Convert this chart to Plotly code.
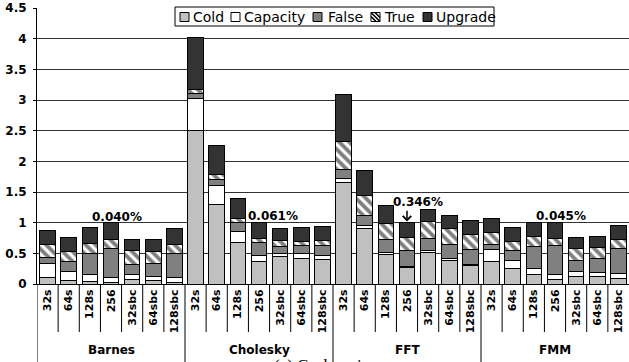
import plotly.graph_objects as go

# ---- data -------------------------------------------------------------
benchmarks = ["Barnes", "Cholesky", "FFT", "FMM"]
configs = ["32s", "64s", "128s", "256", "32sbc", "64sbc", "128sbc"]

cold = [0.11, 0.05, 0.04, 0.03, 0.07, 0.05, 0.03,
        2.50, 1.29, 0.68, 0.36, 0.45, 0.42, 0.40,
        1.65, 0.91, 0.48, 0.27, 0.52, 0.39, 0.30,
        0.36, 0.26, 0.15, 0.08, 0.13, 0.12, 0.09]
capacity = [0.23, 0.16, 0.11, 0.07, 0.08, 0.07, 0.08,
            0.53, 0.31, 0.17, 0.11, 0.05, 0.07, 0.07,
            0.07, 0.05, 0.03, 0.02, 0.02, 0.02, 0.02,
            0.20, 0.13, 0.11, 0.08, 0.07, 0.07, 0.08]
false_sh = [0.10, 0.15, 0.35, 0.48, 0.16, 0.22, 0.39,
            0.07, 0.10, 0.15, 0.21, 0.11, 0.14, 0.16,
            0.14, 0.15, 0.22, 0.26, 0.20, 0.23, 0.25,
            0.09, 0.16, 0.35, 0.46, 0.19, 0.23, 0.41]
true_sh = [0.20, 0.17, 0.16, 0.15, 0.23, 0.19, 0.15,
           0.07, 0.08, 0.07, 0.07, 0.10, 0.07, 0.08,
           0.46, 0.33, 0.25, 0.21, 0.28, 0.26, 0.24,
           0.19, 0.15, 0.16, 0.13, 0.19, 0.18, 0.15]
upgrade = [0.24, 0.23, 0.26, 0.28, 0.18, 0.19, 0.26,
           0.85, 0.48, 0.33, 0.26, 0.20, 0.22, 0.23,
           0.77, 0.41, 0.30, 0.24, 0.20, 0.21, 0.22,
           0.23, 0.22, 0.23, 0.26, 0.18, 0.18, 0.22]

# percentage notes above the "256" bar of each benchmark
note_text = ["0.040%", "0.061%", "0.346%", "0.045%"]
note_x = [3.27, 10.64, 17.52, 24.27]
note_y = [1.10, 1.11, 1.33, 1.11]

series_names = ["Cold", "Capacity", "False", "True", "Upgrade"]
series_vals = [cold, capacity, false_sh, true_sh, upgrade]
series_colors = ["#c0c0c0", "#ffffff", "#808080", "#ffffff", "#333333"]

# ---- figure geometry (pixels) -----------------------------------------
W, H = 629, 362
ML, MR, MT, MB = 37, 0, 8, 78
PW, PH = W - ML - MR, H - MT - MB


def px(xp):
    return (xp - ML) / PW


def py(yp):
    return (H - MB - yp) / PH


n = len(benchmarks) * len(configs)
xpos = list(range(n))
ticktext = configs * len(benchmarks)

fig = go.Figure()
for name, vals, col in zip(series_names, series_vals, series_colors):
    marker = dict(color=col, line=dict(color="#000000", width=1))
    if name == "True":
        marker["pattern"] = dict(shape="\\", fgcolor="#000000", bgcolor="#ffffff",
                                 size=7, solidity=0.55)
    fig.add_trace(go.Bar(x=xpos, y=vals, name=name, marker=marker,
                         showlegend=False, hoverinfo="skip"))

TXT = dict(family="DejaVu Sans", color="#000000")
shapes = []
annotations = []

# separators under the axis: short between configs, long between benchmarks
for k in range(n):
    b = k - 0.5
    long_line = (k % len(configs) == 0)
    shapes.append(dict(type="line", xref="x", yref="paper", x0=b, x1=b,
                       y0=0, y1=(-0.31 if long_line else py(332)),
                       line=dict(color="#000000", width=1)))

# benchmark names
for i, b in enumerate(benchmarks):
    c = i * len(configs) + (len(configs) - 1) / 2
    annotations.append(dict(x=c, y=py(349.5), xref="x", yref="paper", text=b,
                            showarrow=False, yanchor="middle",
                            font=dict(size=12, weight="bold", **TXT)))

# percentage notes
for t, x, y in zip(note_text, note_x, note_y):
    annotations.append(dict(x=x, y=y, xref="x", yref="y", text=t, showarrow=False,
                            yanchor="middle", font=dict(size=12, weight="bold", **TXT)))
annotations.append(dict(x=17, y=1.02, ax=17, ay=1.22, xref="x", yref="y",
                        axref="x", ayref="y", text="", showarrow=True,
                        arrowhead=4, arrowsize=1.1, arrowwidth=1.5,
                        arrowcolor="#000000", standoff=0))

# legend box
shapes.append(dict(type="rect", xref="paper", yref="paper",
                   x0=px(175), x1=px(494), y0=py(26), y1=py(7),
                   fillcolor="#ffffff", line=dict(color="#000000", width=1)))
swatch_x = [180, 231, 313, 371, 423]
label_x = [192, 243, 327, 383, 435]
for name, col, sx, lx in zip(series_names, series_colors, swatch_x, label_x):
    shapes.append(dict(type="rect", xref="paper", yref="paper",
                       x0=px(sx), x1=px(sx + 9), y0=py(21.5), y1=py(12.5),
                       fillcolor=col, line=dict(color="#000000", width=1)))
    if name == "True":
        for d in (-4, 0, 4):
            xa, ya, xb, yb = sx + d, 12.5, sx + 9 + d, 21.5
            if xa < sx:
                ya += sx - xa
                xa = sx
            if xb > sx + 9:
                yb -= xb - (sx + 9)
                xb = sx + 9
            shapes.append(dict(type="line", xref="paper", yref="paper",
                               x0=px(xa), x1=px(xb), y0=py(ya), y1=py(yb),
                               line=dict(color="#000000", width=1.6)))
    annotations.append(dict(x=px(lx), y=py(17), xref="paper", yref="paper",
                            text=name, showarrow=False, xanchor="left",
                            yanchor="middle", borderpad=0,
                            font=dict(size=14, **TXT)))

# caption (runs off the bottom edge of the page)
annotations.append(dict(x=px(273), y=py(355), xref="paper", yref="paper",
                        text="(a) Cache misses", showarrow=False,
                        xanchor="left", yanchor="top", borderpad=0,
                        font=dict(family="Liberation Serif", size=17, color="#000000")))

fig.update_layout(
    width=W, height=H,
    margin=dict(l=ML, r=MR, t=MT, b=MB),
    barmode="stack", bargap=0.26,
    paper_bgcolor="#ffffff", plot_bgcolor="#ffffff",
    shapes=shapes, annotations=annotations,
    showlegend=False,
)
fig.update_xaxes(range=[-0.5, n - 0.5], tickmode="array", tickvals=xpos,
                 ticktext=ticktext, tickangle=-90, ticks="", showgrid=False,
                 zeroline=False, showline=True, linecolor="#000000", linewidth=1,
                 tickfont=dict(size=11, weight="bold", **TXT))
fig.update_yaxes(range=[0, 4.5], dtick=0.5, showgrid=True, gridcolor="#333333",
                 gridwidth=1, zeroline=False, showline=True, linecolor="#000000",
                 linewidth=1, ticks="outside", ticklen=3, tickcolor="#000000",
                 ticklabelstandoff=4,
                 tickfont=dict(size=12, weight="bold", **TXT))

fig.write_html("out.html")
